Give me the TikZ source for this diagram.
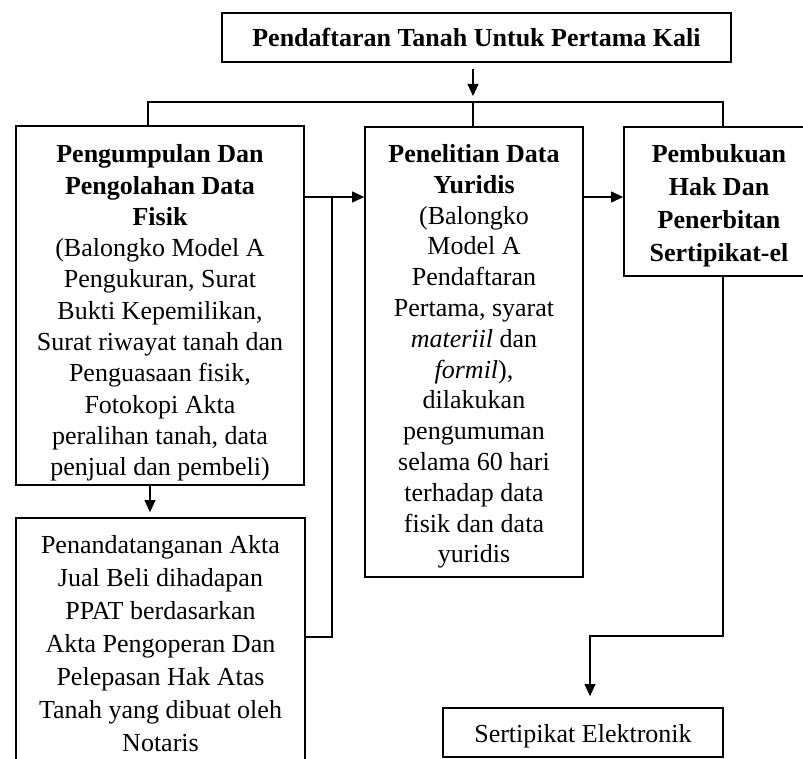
\documentclass[tikz,border=0pt]{standalone}
\usepackage{fontspec}
\setmainfont{Liberation Serif}
\usetikzlibrary{arrows.meta}
\begin{document}
\begin{tikzpicture}[x=1pt,y=-1pt,
  box/.style={draw, line width=1.8pt, inner sep=0pt},
  txt/.style={align=center, inner sep=0pt},
  conn/.style={line width=1.1pt},
  arr/.style={conn, -{Triangle[length=12pt,width=11pt]}}]
\useasboundingbox (0,0) rectangle (803,759);
\clip (0,0) rectangle (803,759);
\node[box, minimum width=509pt, minimum height=49pt] (title) at (476.5,37.5) {};
\node[txt, font=\fontsize{26}{31}\selectfont] (titletxt) at (476.5,37.5)
  {\textbf{Pendaftaran Tanah Untuk Pertama Kali}};
\node[box, minimum width=288pt, minimum height=359pt] (left) at (160,305.5) {};
\node[txt, font=\fontsize{26}{31.3}\selectfont] (lefttxt) at (160,313)
  {\textbf{Pengumpulan Dan}\\ \textbf{Pengolahan Data}\\ \textbf{Fisik}\\
   (Balongko Model A\\ Pengukuran, Surat\\ Bukti Kepemilikan,\\ Surat riwayat tanah dan\\
   Penguasaan fisik,\\ Fotokopi Akta\\ peralihan tanah, data\\ penjual dan pembeli)};
\node[box, minimum width=218pt, minimum height=450pt] (mid) at (474,352) {};
\node[txt, font=\fontsize{26}{30.8}\selectfont] (midtxt) at (474,356.5)
  {\textbf{Penelitian Data}\\ \textbf{Yuridis}\\ (Balongko\\ Model A\\ Pendaftaran\\ Pertama, syarat\\
   \textit{materiil} dan\\ \textit{formil}),\\ dilakukan\\ pengumuman\\ selama 60 hari\\ terhadap data\\
   fisik dan data\\ yuridis};
\node[box, minimum width=190pt, minimum height=149pt] (right) at (719,201.5) {};
\node[txt, font=\fontsize{26}{33}\selectfont] (righttxt) at (719,205.5)
  {\textbf{Pembukuan}\\ \textbf{Hak Dan}\\ \textbf{Penerbitan}\\ \textbf{Sertipikat-el}};
\node[box, minimum width=289pt, minimum height=251pt] (low) at (160.5,643.5) {};
\node[txt, font=\fontsize{26}{33}\selectfont] (lowtxt) at (160.5,643.5)
  {Penandatanganan Akta\\ Jual Beli dihadapan\\ PPAT berdasarkan\\ Akta Pengoperan Dan\\
   Pelepasan Hak Atas\\ Tanah yang dibuat oleh\\ Notaris};
\node[box, minimum width=280pt, minimum height=49pt] (sert) at (583,732.5) {};
\node[txt, font=\fontsize{26}{31}\selectfont] (serttxt) at (583,736)
  {Sertipikat Elektronik};
\coordinate (split) at (473,102);
\coordinate (bl) at (148,102);
\coordinate (br) at (723,102);
\coordinate (j1) at (332,197);
\coordinate (j2) at (332,637);
\coordinate (r1) at (723,636);
\coordinate (r2) at (590,636);
\coordinate (lx) at (150,500);
\draw[arr, shorten <=6pt, shorten >=6pt] (title.south -| split) -- (split);
\draw[conn] (left.north -| bl) -- (bl) -- (br) -- (right.north -| br);
\draw[conn] (split) -- (mid.north -| split);
\draw[arr] (left.east |- j1) -- (mid.west |- j1);
\draw[conn] (j1) -- (j2) -- (low.east |- j2);
\draw[arr] (mid.east |- j1) -- (right.west |- j1);
\draw[arr, shorten >=11pt] (right.south -| r1) -- (r1) -- (r2) -- (sert.north -| r2);
\draw[arr, shorten >=5pt] (left.south -| lx) -- (low.north -| lx);
\end{tikzpicture}
\end{document}
